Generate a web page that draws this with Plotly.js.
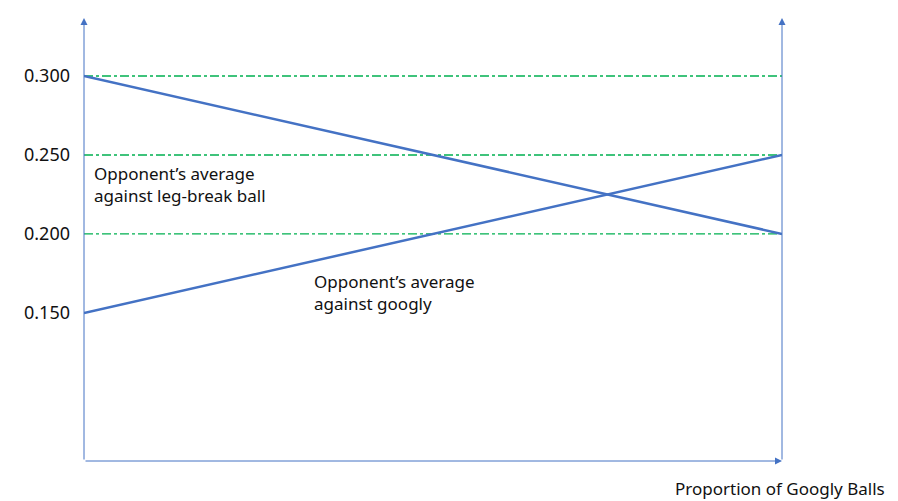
<!DOCTYPE html>
<html>
<head>
<meta charset="utf-8">
<script src="https://cdn.plot.ly/plotly-3.0.1.min.js"></script>
<style>
  html, body { margin: 0; padding: 0; background: #fff; }
  #plot { width: 898px; height: 501px; }
</style>
</head>
<body>
<div id="plot"></div>
<script>
// proportion of googly balls (start / end)
const proportion = [0, 1];
// opponent's batting average for each delivery
const legBreakAvg = [0.300, 0.200];
const googlyAvg = [0.150, 0.250];
// reference levels drawn as dash-dot lines
const refLevels = [0.300, 0.250, 0.200];
const tickValues = [0.150, 0.200, 0.250, 0.300];
const tickLabels = ["0.150", "0.200", "0.250", "0.300"];

const yRange = [0.0563, 0.3367];
const blue = "#4472C4";
const green = "#00B050";
const font = "Noto Sans, Open Sans, sans-serif";

const traces = [
  {
    x: proportion, y: legBreakAvg, type: "scatter", mode: "lines",
    line: { color: blue, width: 2.5 }, hoverinfo: "skip", cliponaxis: false
  },
  {
    x: proportion, y: googlyAvg, type: "scatter", mode: "lines",
    line: { color: blue, width: 2.5 }, hoverinfo: "skip", cliponaxis: false
  }
];

// green dash-dot guides
const shapes = refLevels.map(v => ({
  type: "line", xref: "x", yref: "y", x0: 0, x1: 1, y0: v, y1: v,
  line: { color: green, width: 1.3, dash: "dashdot" }, layer: "below"
}));

// axis arrows (left, right, bottom)
function arrow(x, y, ax, ay) {
  return {
    x: x, y: y, ax: ax, ay: ay, xref: "x", yref: "y", axref: "x", ayref: "y",
    text: "", showarrow: true, arrowhead: 2, arrowsize: 1.4, arrowwidth: 1,
    arrowcolor: blue, standoff: 0, startstandoff: 0
  };
}

const annotations = [
  arrow(0, yRange[1], 0, yRange[0]),
  arrow(1, yRange[1], 1, yRange[0]),
  arrow(1, yRange[0], 0, yRange[0]),
  {
    x: 0.011, y: 0.2315, xref: "x", yref: "y", xanchor: "left", yanchor: "middle",
    align: "left", showarrow: false,
    text: "Opponent’s average<br>against leg-break ball",
    font: { family: font, size: 17, color: "#111" }
  },
  {
    x: 0.326, y: 0.1627, xref: "x", yref: "y", xanchor: "left", yanchor: "middle",
    align: "left", showarrow: false,
    text: "Opponent’s average<br>against googly",
    font: { family: font, size: 17, color: "#111" }
  },
  {
    x: 1.0, y: -0.061, xref: "paper", yref: "paper", xanchor: "center", yanchor: "middle",
    xshift: -2, showarrow: false,
    text: "Proportion of Googly Balls",
    font: { family: font, size: 17, color: "#111" }
  }
];

const layout = {
  width: 898, height: 501,
  margin: { l: 84, r: 116, t: 18, b: 40 },
  paper_bgcolor: "#fff", plot_bgcolor: "#fff",
  showlegend: false,
  xaxis: {
    range: [0, 1], showgrid: false, zeroline: false, showticklabels: false,
    showline: false, ticks: ""
  },
  yaxis: {
    range: yRange, showgrid: false, zeroline: false, showline: false,
    tickvals: tickValues, ticktext: tickLabels, ticks: "", ticklabelstandoff: 13,
    tickfont: { family: font, size: 18, color: "#111" }
  },
  shapes: shapes,
  annotations: annotations
};

Plotly.newPlot("plot", traces, layout, { staticPlot: true });
</script>
</body>
</html>
